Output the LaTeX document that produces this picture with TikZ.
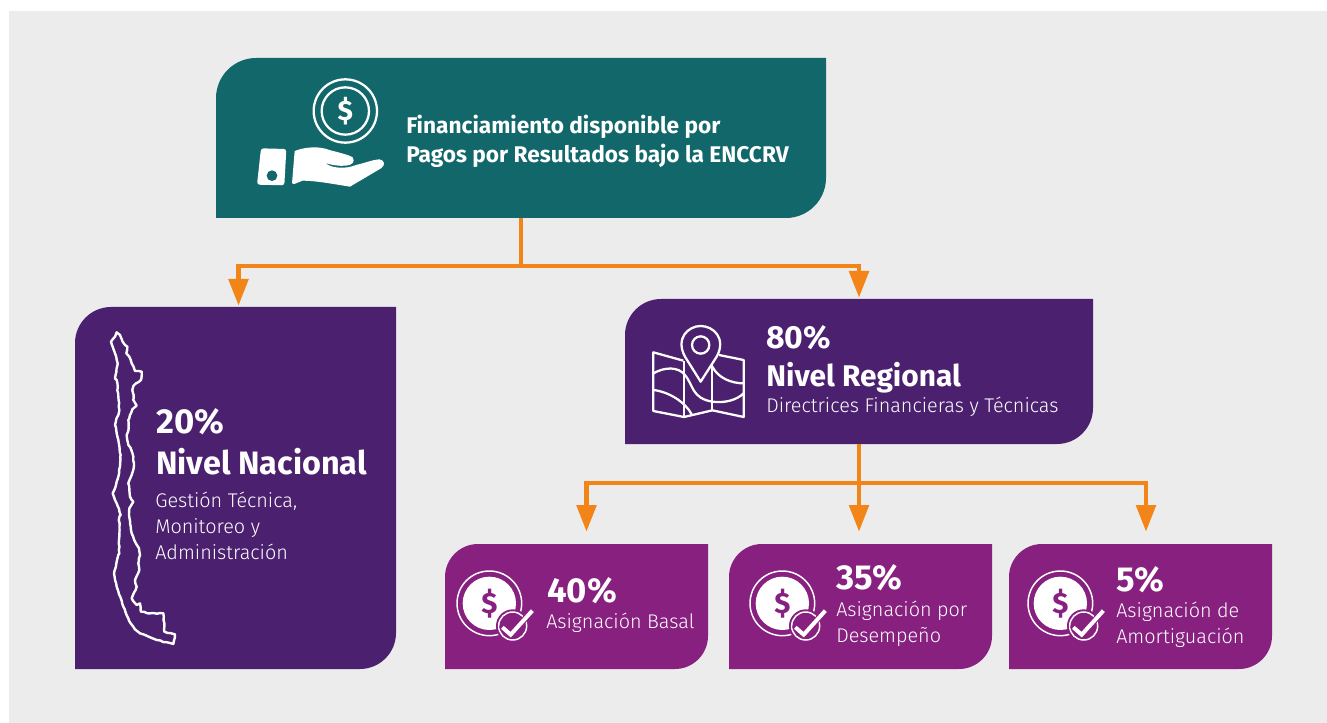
\documentclass[tikz,border=0pt]{standalone}
\usepackage{fontspec}
\setmainfont{Fira Sans}
\newfontfamily\lightfont{Fira Sans Light}
\usetikzlibrary{calc,fit,arrows.meta,decorations.pathmorphing}
\definecolor{pagegray}{HTML}{ECECEC}
\definecolor{tealbox}{HTML}{12676B}
\definecolor{darkpurple}{HTML}{4B206E}
\definecolor{magentabox}{HTML}{87207F}
\definecolor{linkorange}{HTML}{F28418}
\tikzset{slot/.style={inner sep=0pt,outer sep=0pt},
  link/.style={draw=linkorange,line width=3.4pt},
  flow/.style={link,-{Triangle[length=20pt,width=14.5pt]},shorten >=1pt},
  label/.style={anchor=west,inner sep=0pt,text=white,align=left},
  big/.style={label,font=\bfseries\fontsize{24.3}{30}\selectfont},
  mid/.style={label,font=\bfseries\fontsize{26}{30}\selectfont},
  sub/.style={label,font=\lightfont\fontsize{14.85}{19.5}\selectfont},
  icon/.style={draw=white,line width=1.7pt,line join=round}}
% box with two round corners
\newcommand{\tagbox}[3]{
  \fill[#2] ($(#1.north west)+(#3,0)$) -- (#1.north east) -- ($(#1.south east)+(0,-#3)$)
    .. controls ($(#1.south east)+(0,-#3*0.45)$) and ($(#1.south east)+(-#3*0.45,0)$) .. ($(#1.south east)+(-#3,0)$)
    -- (#1.south west) -- ($(#1.north west)+(0,#3)$)
    .. controls ($(#1.north west)+(0,#3*0.45)$) and ($(#1.north west)+(#3*0.45,0)$) .. cycle;
}
% coin with tick, in zoom units
\newcommand{\coinicon}[2]{
  \begin{scope}[shift={(#1,#2)},x=0.25pt,y=-0.25pt]
    \draw[white,line width=1.1pt] (133,190) circle (97);
    \fill[white] (133,190) circle (80);
    \node[slot,text=magentabox,font=\bfseries\fontsize{22}{22}\selectfont] at (133,190) {\$};
    \fill[magentabox] (203,258) circle (50);
    \draw[white,line width=1.1pt,fill=magentabox] (203,258) circle (42);
    \draw[magentabox,line width=4.6pt,line cap=round] (172,262) -- (197,284) -- (262,212);
    \draw[white,line width=3pt] (172,262) -- (197,284) -- (262,212);
  \end{scope}
}
\begin{document}
\begin{tikzpicture}[x=0.75pt,y=-0.75pt]
  \useasboundingbox (0,0) rectangle (1327,723);
  \fill[pagegray] (9,11) rectangle (1327,723);

  \node[slot,fit={(216,58)(826,218)}] (top) {};
  \node[slot,fit={(75,307)(396,669)}] (nacional) {};
  \node[slot,fit={(625,299)(1093,444)}] (regional) {};
  \node[slot,fit={(445,544)(708,669)}] (basal) {};
  \node[slot,fit={(729,544)(992,669)}] (desempeno) {};
  \node[slot,fit={(1009,544)(1272,669)}] (amort) {};

  \tagbox{top}{tealbox}{40}
  \tagbox{nacional}{darkpurple}{36}
  \tagbox{regional}{darkpurple}{36}
  \tagbox{basal}{magentabox}{33}
  \tagbox{desempeno}{magentabox}{33}
  \tagbox{amort}{magentabox}{33}

  % connectors
  \coordinate (topjoin) at (521,266);
  \coordinate (regjoin) at (859,483);
  \coordinate (nacin) at (238.5,307);
  \coordinate (basin) at (586.5,533);
  \coordinate (desin) at (859,533);
  \coordinate (amoin) at (1146,533);
  \draw[link] (top.south) -- (topjoin);
  \draw[flow] (topjoin) -| (nacin);
  \draw[flow] (topjoin) -| (regional.north);
  \draw[link] (regional.south) -- (regjoin);
  \draw[flow] (regjoin) -- (desin);
  \draw[flow] (regjoin) -| (basin);
  \draw[flow] (regjoin) -| (amoin);

  % texts
  \node[label,font=\bfseries\fontsize{17}{21.9}\selectfont] (toptext) at (406,141.5) {Financiamiento disponible por\\Pagos por Resultados bajo la ENCCRV};
  \node[mid] (nacpct) at (156,422) {20\%};
  \node[big] (nacname) at (156,462) {Nivel Nacional};
  \node[sub] (nactext) at (155,526) {Gestión Técnica,\\Monitoreo y\\Administración};
  \node[mid,font=\bfseries\fontsize{24}{30}\selectfont] (regpct) at (766,338) {80\%};
  \node[big,font=\bfseries\fontsize{22.4}{30}\selectfont] (regname) at (766,378) {Nivel Regional};
  \node[sub] (regtext) at (766,406.5) {Directrices Financieras y Técnicas};
  \node[mid] (baspct) at (547,591) {40\%};
  \node[sub] (bastext) at (546,622.5) {Asignación Basal};
  \node[mid] (despct) at (836,578) {35\%};
  \node[sub] (destext) at (836,623.5) {Asignación por\\Desempeño};
  \node[mid] (amopct) at (1116,580) {5\%};
  \node[sub] (amotext) at (1116,624.5) {Asignación de\\Amortiguación};

  % hand and coin
  \begin{scope}[shift={(216,50)},x=0.25pt,y=-0.25pt]
    \draw[icon] (388,183) circle (95);
    \draw[icon] (388,183) circle (71);
    \node[slot,text=white,font=\bfseries\fontsize{21}{21}\selectfont] (topcoin) at (388,183) {\$};
    \fill[white,rounded corners=2pt] (135,295) -- (211,297) -- (205,406) -- (123,404) -- cycle;
    \fill[tealbox] (168,377) circle (16);
    \fill[white] (236,303) .. controls (270,290) and (310,288) .. (340,300)
      .. controls (370,308) and (400,315) .. (410,322) .. controls (418,335) and (410,345) .. (390,347)
      .. controls (370,349) and (345,345) .. (328,339) .. controls (345,355) and (390,358) .. (420,345)
      .. controls (450,338) and (475,328) .. (490,328) .. controls (505,330) and (510,345) .. (495,355)
      -- (402,410) .. controls (350,402) and (300,392) .. (260,392) -- (235,402) -- (228,400) -- cycle;
  \end{scope}

  % Chile outline
  \begin{scope}[shift={(70,300)},x=0.25pt,y=-0.25pt]
    \draw[icon,line width=1.8pt,decorate,decoration={random steps,segment length=2.5pt,amplitude=0.35pt}] (140,97) -- (150,105) -- (158,125) -- (165,135) -- (172,140) -- (169,160) -- (178,170) -- (185,190)
      -- (195,213) -- (215,215) -- (213,240) -- (190,258) -- (187,270) -- (191,285) -- (190,300) -- (200,317) -- (187,328) -- (180,345)
      -- (175,360) -- (176,385) -- (170,405) -- (175,435) -- (184,450) -- (190,470) -- (192,495) -- (185,525) -- (175,550) -- (178,570)
      -- (180,590) -- (190,605) -- (178,625) -- (177,645) -- (180,670) -- (185,700) -- (195,725) -- (207,745) -- (210,765) -- (205,790)
      -- (208,810) -- (195,840) -- (200,860) -- (185,895) -- (200,915) -- (210,910) -- (213,935) -- (240,940) -- (280,940)
      -- (283,995) -- (315,1003) -- (310,1032) -- (260,1020) -- (210,1000) .. controls (195,990) and (185,975) .. (175,955)
      -- (160,920) -- (140,860) -- (132,820) -- (140,785) -- (148,760) -- (147,720) -- (148,650) -- (152,645) -- (140,610)
      -- (128,580) -- (138,555) -- (145,530) -- (150,500) -- (152,465) -- (145,420) -- (135,375) -- (148,330) -- (145,290)
      -- (140,240) -- (135,235) -- (143,190) -- (135,160) -- (123,125) -- (135,110) -- cycle;
  \end{scope}

  % map and pin
  \begin{scope}[shift={(625,295)},x=0.25pt,y=-0.25pt]
    \draw[icon] (175,197) -- (85,172) -- (85,348) -- (177,366) -- (262,346) -- (356,366) -- (356,195) -- (282,180);
    \draw[icon] (177,197) -- (177,366);
    \draw[icon] (262,210) -- (262,346);
    \draw[icon] (85,235) .. controls (120,215) and (160,215) .. (180,240)
      .. controls (205,270) and (200,310) .. (262,320) .. controls (300,325) and (335,315) .. (356,295);
    \draw[icon] (85,285) .. controls (130,290) and (180,320) .. (200,358);
    \draw[icon] (262,215) .. controls (280,250) and (320,265) .. (356,265);
    \draw[icon,fill=darkpurple] (227,260) -- (180,185) .. controls (150,130) and (190,93) .. (227,93)
      .. controls (265,93) and (305,130) .. (275,185) -- cycle;
    \draw[icon] (227,150) circle (26);
  \end{scope}

  \coinicon{445}{540}
  \coinicon{738}{540}
  \coinicon{1016}{540}
\end{tikzpicture}
\end{document}
